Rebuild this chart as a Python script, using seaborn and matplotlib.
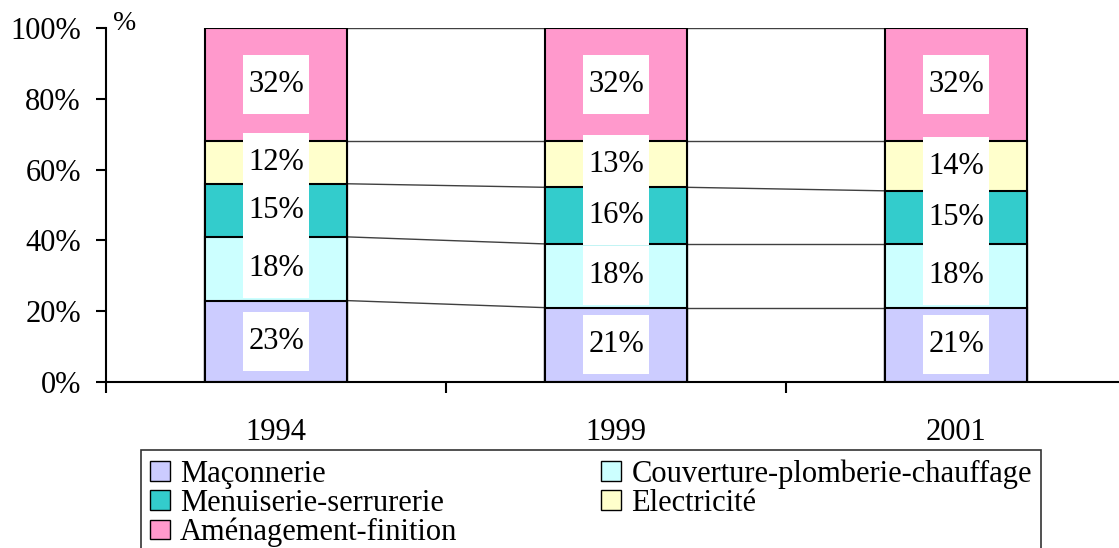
import numpy as np
import pandas as pd
import matplotlib.pyplot as plt
import seaborn as sns
from matplotlib.patches import Patch, Rectangle

# Répartition par corps d'état (%)
years = ["1994", "1999", "2001"]
maconnerie = [23, 21, 21]
couverture = [18, 18, 18]
menuiserie = [15, 16, 15]
electricite = [12, 13, 14]
amenagement = [32, 32, 32]

series_names = ["Maçonnerie", "Couverture-plomberie-chauffage",
                "Menuiserie-serrurerie", "Electricité", "Aménagement-finition"]
series_colors = ["#CCCCFF", "#CCFFFF", "#33CCCC", "#FFFFCC", "#FF99CC"]

sns.set_style("ticks")
plt.rcParams["font.family"] = ["Liberation Serif", "DejaVu Serif"]
plt.rcParams["text.color"] = "black"
plt.rcParams["xtick.color"] = "black"
plt.rcParams["ytick.color"] = "black"

values = np.array([maconnerie, couverture, menuiserie, electricite, amenagement])
tops = values.cumsum(axis=0)
bottoms = tops - values

fig = plt.figure(figsize=(11.19, 5.48), dpi=100)
ax = fig.add_axes([106 / 1119, 166 / 548, 1020 / 1119, 354 / 548])

bar_w = 0.415
# stacked bars: draw cumulative totals from the top series down
for k in range(len(series_names) - 1, -1, -1):
    df = pd.DataFrame({"year": years, "top": tops[k]})
    sns.barplot(data=df, x="year", y="top", color=series_colors[k], saturation=1,
                width=bar_w, edgecolor="black", linewidth=1.5, errorbar=None,
                ax=ax, zorder=2)

# series lines between bars
for k in range(len(series_names)):
    for i in range(len(years) - 1):
        ax.plot([i + bar_w / 2, i + 1 - bar_w / 2], [tops[k][i], tops[k][i + 1]],
                color="#404040", lw=1, zorder=1)

# data labels in white boxes
box_w, box_h = 0.197, 16.7
for k in range(len(series_names)):
    for i in range(len(years)):
        yc = bottoms[k][i] + values[k][i] / 2
        ax.add_patch(Rectangle((i - box_w / 2, yc - box_h / 2), box_w, box_h,
                               facecolor="white", edgecolor="none", zorder=3))
        ax.text(i, yc, f"{values[k][i]}%", ha="center", va="center",
                fontsize=22, zorder=4)

ax.set_xlim(-0.5, 2.5)
ax.set_ylim(0, 100)
ax.set_yticks(range(0, 101, 20))
ax.set_yticklabels([f"{v}%" for v in range(0, 101, 20)])
ax.set_xticks([0, 1, 2])
ax.set_xticklabels(years)
ax.set_xticks([-0.5, 0.5, 1.5, 2.5], minor=True)
ax.tick_params(axis="y", length=7, width=1.5, pad=11, labelsize=22)
ax.tick_params(axis="x", which="major", length=0, pad=26, labelsize=22)
ax.tick_params(axis="x", which="minor", length=8, width=1.5)
ax.set_xlabel("")
ax.set_ylabel("")
for s in ["top", "right"]:
    ax.spines[s].set_visible(False)
for s in ["left", "bottom"]:
    ax.spines[s].set_color("black")
    ax.spines[s].set_linewidth(1.5)

ax.annotate("%", xy=(0, 1), xycoords="axes fraction", xytext=(5, 3),
            textcoords="offset points", ha="left", va="center", fontsize=20)

handles = [Patch(facecolor=c, edgecolor="black", linewidth=1) for c in series_colors]
order = [0, 2, 4, 1, 3]
leg = fig.legend([handles[i] for i in order], [series_names[i] for i in order],
                 ncol=2, loc="upper left",
                 bbox_to_anchor=(141 / 1119, 0, 900 / 1119, 98 / 548),
                 mode="expand", frameon=True, fancybox=False, edgecolor="black",
                 fontsize=22, handlelength=0.65, handleheight=0.6,
                 handletextpad=0.33, labelspacing=0.0, borderaxespad=0,
                 borderpad=0.3)
leg.get_frame().set_linewidth(1.2)

fig.savefig("out.png", dpi=100)
